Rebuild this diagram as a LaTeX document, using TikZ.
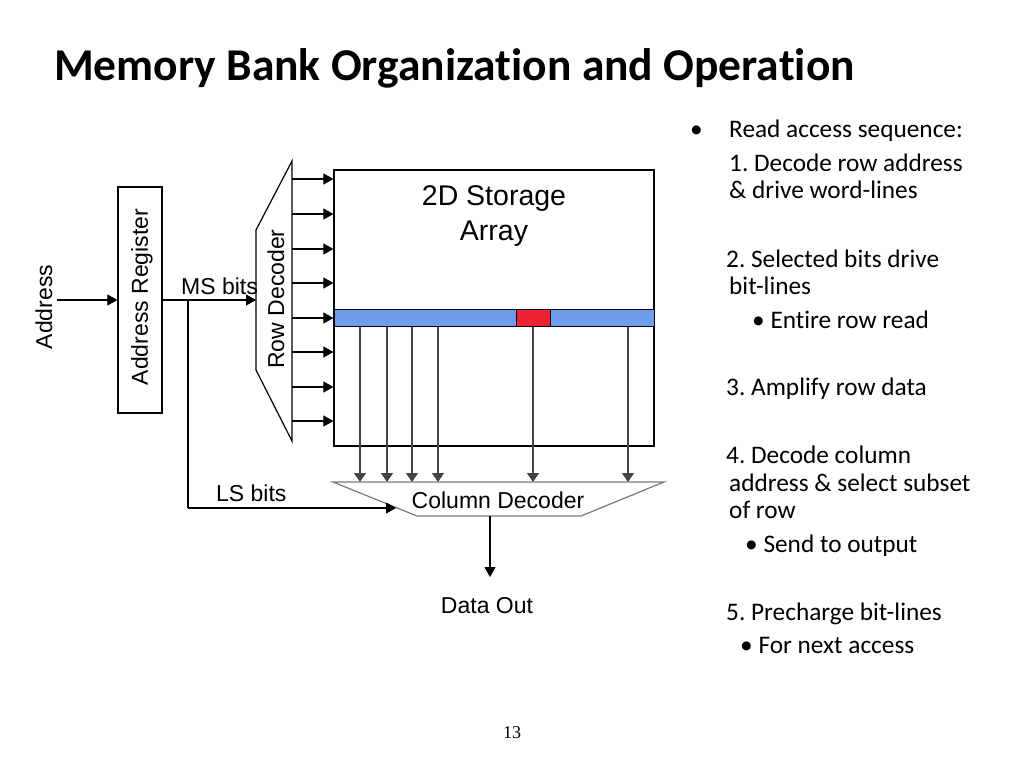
\documentclass[tikz,border=0pt]{standalone}
\usepackage{fontspec}
\setmainfont{Liberation Sans}
\newfontfamily\calfont[Ligatures=NoCommon]{Carlito}
\newfontfamily\pagefont{Liberation Serif}
\usetikzlibrary{arrows.meta}
\definecolor{rowblue}{HTML}{6D9EEB}
\definecolor{cellred}{HTML}{EE2233}
\definecolor{bitgray}{HTML}{444444}
\definecolor{decgray}{HTML}{7A7A7A}
\frenchspacing
\begin{document}
\begin{tikzpicture}[x=1pt,y=-1pt,
  box/.style={draw,line width=1.2pt,inner sep=0},
  arr/.style={-{Triangle[length=10pt,width=11pt]},line width=1.1pt},
  bitarr/.style={-{Triangle[length=9pt,width=12pt]},line width=1.1pt,draw=bitgray,fill=bitgray},
  dlabel/.style={font=\fontsize{23}{27}\selectfont,inner sep=0},
  biglabel/.style={font=\fontsize{28.5}{34}\selectfont,inner sep=0,anchor=base},
  rtext/.style={font=\calfont\fontsize{25.3}{30}\selectfont,anchor=base west,inner sep=0},
]
\useasboundingbox[fill=white] (0,0) rectangle (1024,768);

% title
\node[anchor=base west,inner sep=0,font=\calfont\bfseries\fontsize{45.5}{52}\selectfont] (title) at (54,80) {Memory Bank Organization and Operation};

% address input
\node[dlabel,rotate=90] (addr) at (44,307) {Address};
\coordinate (ain) at (57,300);

% address register
\node[box,minimum width=44pt,minimum height=226pt] (areg) at (140,300) {};
\node[dlabel,rotate=90] (aregtxt) at (142,297) {Address Register};
\draw[arr] (ain) -- (areg.west |- ain);

% row decoder
\coordinate (rd1) at (256,230);
\coordinate (rd2) at (292,161);
\coordinate (rd3) at (292,441);
\coordinate (rd4) at (256,370);
\draw[line width=1.2pt,line join=miter] (rd1) -- (rd2) -- (rd3) -- (rd4) -- cycle;
\node[dlabel,rotate=90] (rowdec) at (276,299) {Row Decoder};

% MS bits
\draw[arr] (areg.east |- ain) -- (rd1 |- ain);
\node[dlabel,anchor=base west] (ms) at (181,294) {MS bits};

% storage array
\node[box,minimum width=320pt,minimum height=276pt] (stor) at (494,308) {};
\node[biglabel] (st1) at (494,205) {2D Storage};
\node[biglabel] (st2) at (494,240) {Array};
\node[draw,line width=1pt,fill=rowblue,minimum width=320pt,minimum height=17pt,inner sep=0] (row) at (494,317.5) {};
\node[draw,line width=1pt,fill=cellred,minimum width=34pt,minimum height=17pt,inner sep=0] (cell) at (533,317.5) {};

% word lines
\foreach \y in {179,214,249,283,318,352,387,421}
  \draw[arr] (rd2 |- 0,\y) -- (stor.west |- 0,\y);

% column decoder
\coordinate (cd1) at (333,482);
\coordinate (cd2) at (664,482);
\coordinate (cd3) at (581,516);
\coordinate (cd4) at (417,516);
\draw[line width=1.2pt,draw=decgray,line join=miter] (cd1) -- (cd2) -- (cd3) -- (cd4) -- cycle;
\node[dlabel,anchor=base] (coldec) at (498,508) {Column Decoder};

% bit lines
\foreach \x in {360,387,412,438,533,628}
  \draw[bitarr] (row.south -| \x,0) -- (cd1 -| \x,0);

% LS bits
\coordinate (br) at (188,300);
\coordinate (lsend) at (396,508);
\draw[line width=1.1pt] (br) -- (br |- lsend);
\draw[arr] (br |- lsend) -- (lsend);
\node[dlabel,anchor=base west] (ls) at (216,501) {LS bits};

% output
\coordinate (cdout) at (490,516);
\coordinate (outend) at (490,577);
\draw[arr] (cdout) -- (outend);
\node[dlabel,anchor=base] (dout) at (487,613) {Data Out};

% right column text
\node[rtext] (b0) at (690,137) {•};
\node[rtext] (t1) at (729,137) {Read access sequence:};
\node[rtext] (t2) at (729,171) {1. Decode row address};
\node[rtext] (t3) at (729,198) {\& drive word-lines};
\node[rtext] (t4) at (726,267) {2. Selected bits drive};
\node[rtext] (t5) at (729,294) {bit-lines};
\node[rtext] (t6) at (752,328) {• Entire row read};
\node[rtext] (t7) at (726,395) {3. Amplify row data};
\node[rtext] (t8) at (726,463) {4. Decode column};
\node[rtext] (t9) at (729,491) {address \& select subset};
\node[rtext] (t10) at (729,518) {of row};
\node[rtext] (t11) at (745,552) {• Send to output};
\node[rtext] (t12) at (726,620) {5. Precharge bit-lines};
\node[rtext] (t13) at (740,653) {• For next access};

% page number
\node[inner sep=0,font=\pagefont\fontsize{18}{20}\selectfont] (pg) at (512,733) {13};
\end{tikzpicture}
\end{document}
